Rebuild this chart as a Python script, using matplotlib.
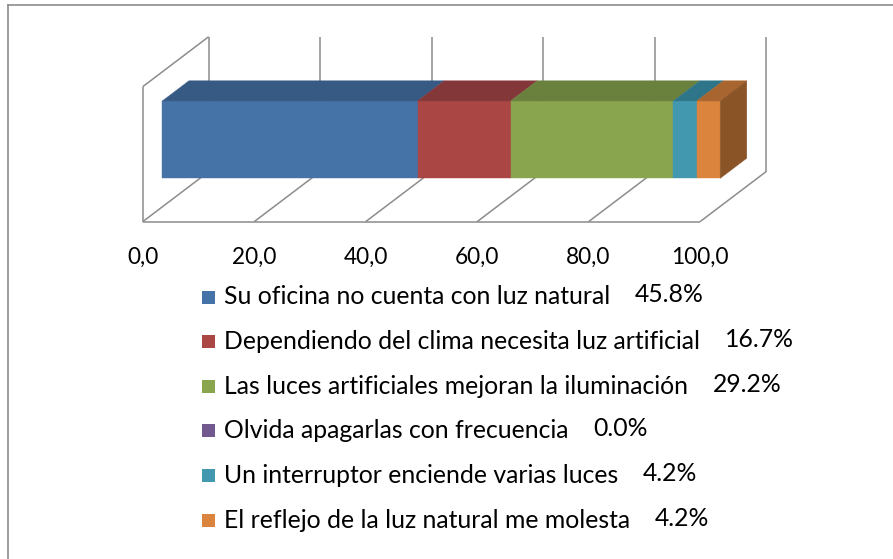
import matplotlib
matplotlib.use("Agg")
import matplotlib.pyplot as plt
from matplotlib.patches import Polygon, Rectangle
from matplotlib.lines import Line2D

# data
categories = [
    "Su oficina no cuenta con luz natural",
    "Dependiendo del clima necesita luz artificial",
    "Las luces artificiales mejoran la iluminación",
    "Olvida apagarlas con frecuencia",
    "Un interruptor enciende varias luces",
    "El reflejo de la luz natural me molesta",
]
values = [45.8, 16.7, 29.2, 0.0, 4.2, 4.2]
tick_values = [0, 20, 40, 60, 80, 100]
tick_labels = ["0,0", "20,0", "40,0", "60,0", "80,0", "100,0"]

# styles
front_col = ["#4572A7", "#AA4643", "#89A54E", "#71588F", "#4198AF", "#DB843D"]
top_col = ["#375A84", "#843738", "#6A803D", "#57446F", "#2F7589", "#A8652F"]
side_col = "#8B5427"
grid_col = "#8c8c8c"

plt.rcParams["font.family"] = ["Lato", "DejaVu Sans"]
FS = 16.3       # tick labels
FS_LEG = 17.8   # legend rows

W, H = 893, 559
fig = plt.figure(figsize=(W / 100, H / 100), dpi=100)

# outer frame (only top and left visible in the crop)
fig.add_artist(Line2D([8 / W, 1], [1 - 5 / H, 1 - 5 / H], color=grid_col, lw=1.2))
fig.add_artist(Line2D([8 / W, 8 / W], [0, 1 - 5 / H], color=grid_col, lw=1.2))

# pseudo-3D geometry (data units, 1 unit = px pixels)
px = 5.573
DX, DY, WALL = 66 / px, 50 / px, 135 / px
d0, d1 = 0.297, 0.70      # bar depth (fraction of floor depth)
h0, h1 = 5.11, 19.0       # bar bottom/top above floor

ax = fig.add_axes([142.7 / W, 1 - 221.7 / H, (100 + DX) * px / W, (WALL + DY) * px / H])
ax.set_xlim(0, 100 + DX)
ax.set_ylim(0, WALL + DY)
ax.axis("off")

lk = dict(color=grid_col, lw=1.1, clip_on=False, solid_capstyle="butt")
# floor
ax.plot([0, 100], [0, 0], **lk)
for v in tick_values:
    ax.plot([v, v + DX], [0, DY], **lk)
# back wall gridlines
for v in tick_values:
    ax.plot([v + DX, v + DX], [DY, DY + WALL], **lk)
# left side wall
ax.plot([0, 0], [0, WALL], **lk)
ax.plot([0, DX], [WALL, WALL + DY], **lk)


def P(v, h, d):
    return (v + d * DX, h + d * DY)


# stacked 3D bar
left = 0.0
for i, val in enumerate(values):
    right = left + val
    if val > 0:
        fr = [P(left, h0, d0), P(right, h0, d0), P(right, h1, d0), P(left, h1, d0)]
        tp = [P(left, h1, d0), P(right, h1, d0), P(right, h1, d1), P(left, h1, d1)]
        ax.add_patch(Polygon(fr, closed=True, fc=front_col[i], ec=front_col[i], lw=0.3, zorder=3))
        ax.add_patch(Polygon(tp, closed=True, fc=top_col[i], ec=top_col[i], lw=0.3, zorder=3))
    left = right
sd = [P(left, h0, d0), P(left, h0, d1), P(left, h1, d1), P(left, h1, d0)]
ax.add_patch(Polygon(sd, closed=True, fc=side_col, ec=side_col, lw=0.3, zorder=3))

# axis labels
for v, lab in zip(tick_values, tick_labels):
    ax.text(v, -35.5 / px, lab, ha="center", va="center", fontsize=FS, color="black")

# legend with percentages
fig.canvas.draw()
rend = fig.canvas.get_renderer()
y0, dy = 297, 44.6
for i, (name, val) in enumerate(zip(categories, values)):
    yc = y0 + i * dy
    fig.add_artist(Rectangle((202 / W, 1 - (yc + 6.5) / H), 13 / W, 13 / H,
                             fc=front_col[i], ec="none"))
    t = fig.text(224 / W, 1 - yc / H, name, ha="left", va="center", fontsize=FS_LEG)
    x1 = t.get_window_extent(rend).x1
    fig.text((x1 + 25) / W, 1 - (yc - 2) / H, f"{val:.1f}%", ha="left", va="center", fontsize=FS_LEG)

fig.savefig("out.png", dpi=100)
